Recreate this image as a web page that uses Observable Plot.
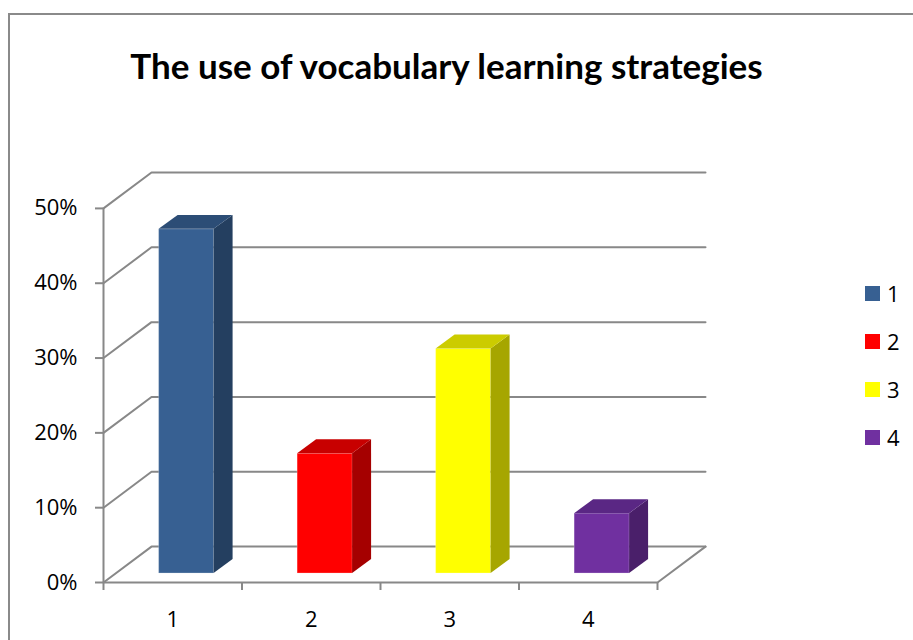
<!DOCTYPE html>
<html><head><meta charset="utf-8">
<script src="https://cdn.jsdelivr.net/npm/d3@7"></script>
<script src="https://cdn.jsdelivr.net/npm/@observablehq/plot@0.6"></script>
<style>
body{margin:0;background:#fff;}
#wrap{position:relative;width:913px;height:640px;overflow:hidden;font-family:"Open Sans",sans-serif;}
#frame{position:absolute;left:8px;top:13px;width:1000px;height:1000px;border:2px solid #8a8a8a;box-sizing:border-box;}
#title{position:absolute;left:0;width:893px;text-align:center;top:44px;font-family:Lato,sans-serif;font-weight:bold;font-size:35px;line-height:42px;color:#000;}
#chart{position:absolute;left:0;top:0;}
.leg{position:absolute;left:865px;height:20px;font-size:22px;line-height:20px;}
.leg span.sw{position:absolute;left:0;top:2px;width:15px;height:15px;}
.leg span.lb{position:absolute;left:22px;top:-1px;}
</style></head>
<body>
<div id="wrap">
  <div id="frame"></div>
  <div id="title">The use of vocabulary learning strategies</div>
  <div id="chart"></div>
</div>
<script>
const categories = ["1", "2", "3", "4"];
const values = [46, 16, 30, 8];
const yTicks = [0, 10, 20, 30, 40, 50];
const frontColors = ["#376092", "#FF0000", "#FFFF00", "#7030A0"];
const sideColors = ["#243F60", "#A50000", "#A6A600", "#4A1F6A"];
const topColors = ["#2C4D76", "#C80000", "#CCCC00", "#5A2784"];

const n = categories.length;
const yMax = yTicks[yTicks.length - 1];
// 3D depth geometry (in data units)
const WX = 48 / 138.5, WY = 36 / 7.5;      // wall depth
const BCX = 0.6, BW = 0.397, FY = 1.2;     // bar center offset, width, base lift
const BDX = 19 / 138.5, BDY = 14 / 7.5;    // bar depth
const gray = "#888888";

const grid = yTicks.flatMap(t => [
  {t, x: 0, y: t}, {t, x: WX, y: t + WY}, {t, x: n + WX, y: t + WY}
]);
const floor = [{x: 0, y: 0}, {x: n, y: 0}, {x: n + WX, y: WY}];

const bars = values.map((v, i) => ({
  i, x1: i + BCX - BW / 2, x2: i + BCX + BW / 2, y1: FY, y2: v + FY,
  front: frontColors[i], side: sideColors[i], top: topColors[i]
}));
const sidePts = bars.flatMap(d => [
  {i: d.i, x: d.x2, y1: d.y1, y2: d.y2, c: d.side},
  {i: d.i, x: d.x2 + BDX, y1: d.y1 + BDY, y2: d.y2 + BDY, c: d.side}
]);
const topPts = bars.flatMap(d => [
  {i: d.i, y: d.y2, x1: d.x1, x2: d.x2, c: d.top},
  {i: d.i, y: d.y2 + BDY, x1: d.x1 + BDX, x2: d.x2 + BDX, c: d.top}
]);

const chart = Plot.plot({
  width: 913, height: 640,
  marginLeft: 103, marginRight: 208, marginTop: 172, marginBottom: 58,
  x: {type: "linear", domain: [0, n + WX], label: null},
  y: {domain: [0, yMax + WY], label: null},
  color: {type: "identity"},
  style: {fontFamily: "'Open Sans', sans-serif", fontSize: "22px", background: "transparent", overflow: "visible"},
  marks: [
    Plot.line(grid, {x: "x", y: "y", z: "t", stroke: gray, strokeWidth: 2}),
    Plot.line(floor, {x: "x", y: "y", stroke: gray, strokeWidth: 2}),
    Plot.ruleX([0], {y1: 0, y2: yMax, stroke: gray, strokeWidth: 2}),
    Plot.axisY(yTicks, {tickSize: 8, tickPadding: 18, tickFormat: d => d + "%", stroke: gray, strokeWidth: 2, fill: "#000", fontSize: 22, label: null}),
    Plot.axisX(d3.range(n + 1), {tickSize: 8, tickFormat: () => "", stroke: gray, strokeWidth: 2, label: null}),
    Plot.axisX(categories.map((c, i) => i + 0.5), {tickSize: 0, tickPadding: 29, tickFormat: d => categories[Math.floor(d)], fill: "#000", fontSize: 22, label: null}),
    Plot.rect(bars, {x1: "x1", x2: "x2", y1: "y1", y2: "y2", fill: "front", stroke: "#ffffff", strokeOpacity: 0.25, strokeWidth: 1}),
    Plot.areaY(sidePts, {x: "x", y1: "y1", y2: "y2", z: "i", fill: "c"}),
    Plot.areaX(topPts, {y: "y", x1: "x1", x2: "x2", z: "i", fill: "c"})
  ]
});
document.getElementById("chart").appendChild(chart);

const wrap = document.getElementById("wrap");
categories.forEach((c, i) => {
  const el = document.createElement("div");
  el.className = "leg";
  el.style.top = (284 + i * 48) + "px";
  el.innerHTML = `<span class="sw" style="background:${frontColors[i]}"></span><span class="lb">${c}</span>`;
  wrap.appendChild(el);
});
</script>
</body></html>
